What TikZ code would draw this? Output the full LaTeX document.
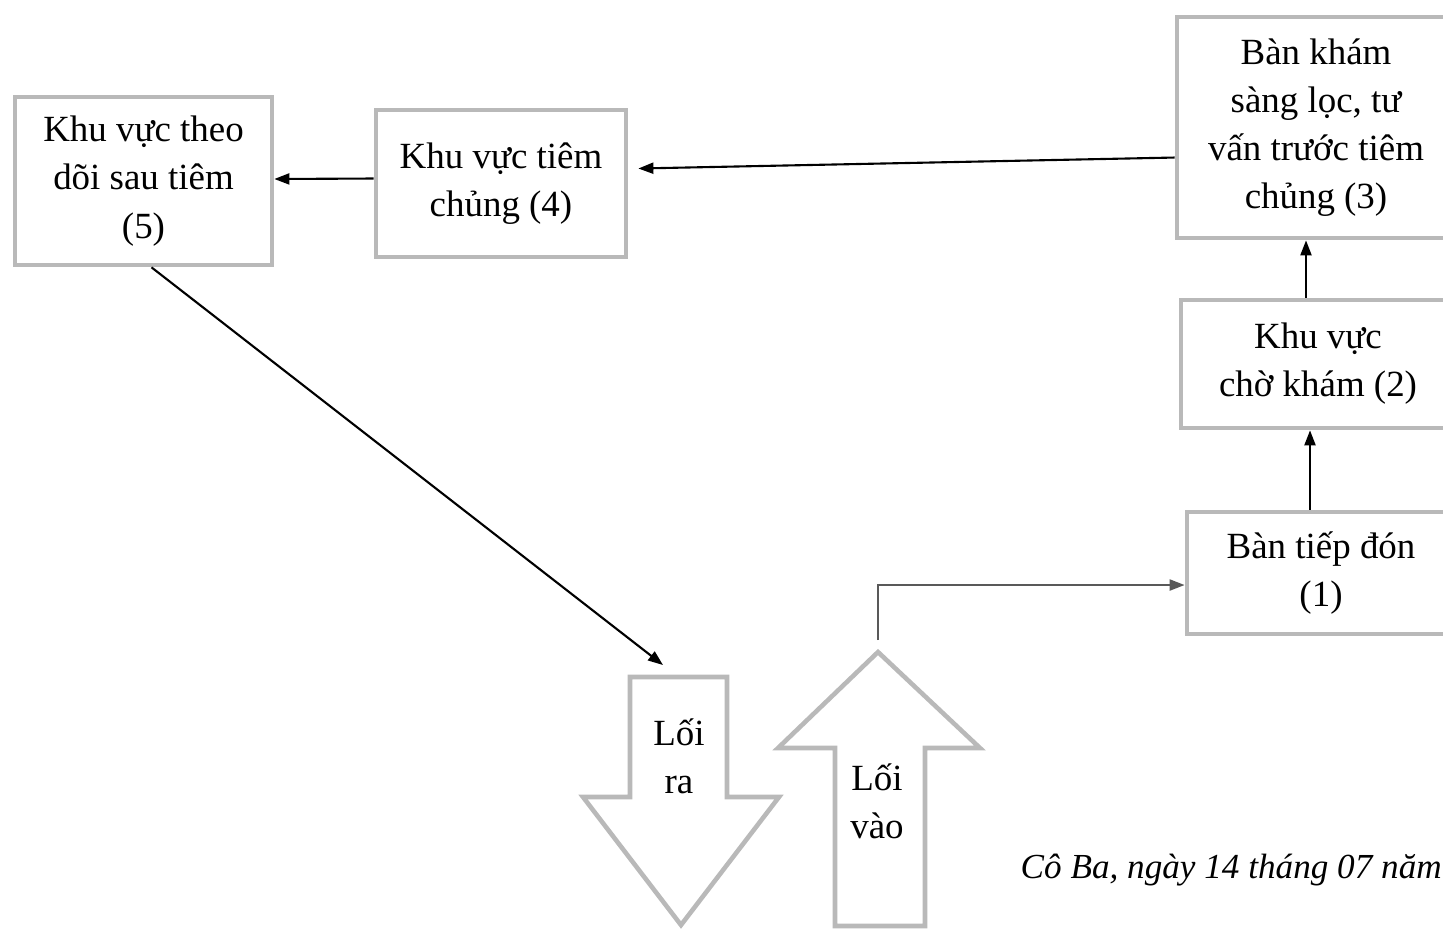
\documentclass[tikz,border=0pt]{standalone}
\usepackage{fontspec}
\setmainfont{Liberation Serif}
\usetikzlibrary{arrows.meta}

\begin{document}
\begin{tikzpicture}[
    x=0.01cm, y=-0.01cm,
    every node/.style={font=\fontsize{10.5}{13.7}\selectfont},
    zone/.style={rectangle, draw=gray!55, line width=1.3pt, fill=white,
                 align=center, inner sep=0pt},
    arr/.style={-{Triangle[length=1.5mm,width=1.1mm]}, line width=0.6pt},
    garr/.style={arr, black!65},
    bigarr/.style={draw=gray!55, line width=1.3pt, fill=white},
]
    \clip (0,0) rectangle (1443,929);
    \node[zone, minimum width=2.57cm, minimum height=1.68cm] (theodoi) at (143.5,181)
        {Khu vực theo\\dõi sau tiêm\\(5)};
    \node[zone, minimum width=2.50cm, minimum height=1.47cm] (tiem) at (501,183.5)
        {Khu vực tiêm\\chủng (4)};
    \node[zone, minimum width=2.78cm, minimum height=2.21cm] (kham) at (1316,127.5)
        {Bàn khám\\sàng lọc, tư\\vấn trước tiêm\\chủng (3)};
    \node[zone, minimum width=2.74cm, minimum height=1.28cm] (cho) at (1318,364)
        {Khu vực\\chờ khám (2)};
    \node[zone, minimum width=2.68cm, minimum height=1.22cm] (tiepdon) at (1321,573)
        {Bàn tiếp đón\\(1)};
    %% exit and entry arrows
    \draw[bigarr] (630,677) -- (727,677) -- (727,797) -- (779,797)
        -- (681,925) -- (583,797) -- (630,797) -- cycle;
    \node[align=center] (ra) at (679,756) {Lối\\ra};
    \draw[bigarr] (835,926) -- (835,748) -- (778,748) -- (878,652)
        -- (980,748) -- (925,748) -- (925,926) -- cycle;
    \node[align=center] (vao) at (877,801) {Lối\\vào};
    \coordinate (raentry) at (663,665);
    \coordinate (vaoentry) at (878,640);
    %% flow
    \draw[arr] ([yshift=-0.3cm]kham.west) -- ([xshift=0.1cm,yshift=0.15cm]tiem.east);
    \draw[arr] ([yshift=0.05cm]tiem.west) -- ([yshift=0.02cm]theodoi.east);
    \draw[arr] ([xshift=-0.12cm]cho.north) -- ([xshift=-0.12cm]cho.north |- kham.south);
    \draw[arr] ([xshift=-0.11cm]tiepdon.north) -- ([xshift=-0.11cm]tiepdon.north |- cho.south);
    \draw[arr] ([xshift=0.08cm]theodoi.south) -- (raentry);
    \draw[garr] (vaoentry) |- ([yshift=-0.12cm]tiepdon.west);
    %% date line
    \node[anchor=base west, inner sep=0pt,
          font=\fontsize{10}{13}\selectfont\itshape] (ngay) at (1020,878)
        {Cô Ba, ngày 14 tháng 07 năm};
\end{tikzpicture}
\end{document}
